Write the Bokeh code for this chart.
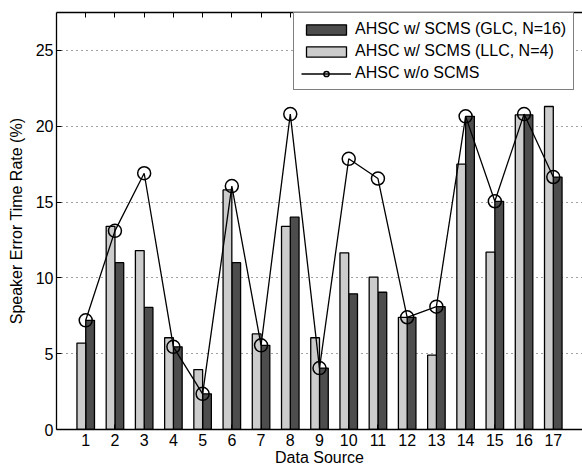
from bokeh.plotting import figure
from bokeh.models import LinearAxis, FixedTicker, Range1d, ColumnDataSource, CustomJSTickFormatter
from bokeh.transform import dodge
from bokeh.embed import file_html
from bokeh.resources import INLINE

sources = list(range(1, 18))
tick_labels = [str(s) for s in sources]
y_ticks = [0, 5, 10, 15, 20, 25]
glc = [7.2, 11.0, 8.05, 5.45, 2.35, 11.0, 5.55, 14.0, 4.05, 8.95, 9.05, 7.4, 8.1, 20.65, 15.05, 20.75, 16.65]
llc = [5.7, 13.4, 11.8, 6.05, 3.95, 15.8, 6.3, 13.4, 6.05, 11.65, 10.05, 7.4, 4.9, 17.5, 11.7, 20.75, 21.3]
wo_scms = [7.2, 13.1, 16.9, 5.45, 2.35, 16.05, 5.55, 20.8, 4.05, 17.85, 16.55, 7.4, 8.1, 20.65, 15.05, 20.8, 16.65]

src = ColumnDataSource(dict(x=sources, glc=glc, llc=llc, wo=wo_scms))

FONT = "Liberation Sans"

p = figure(width=582, height=468, output_backend="svg", toolbar_location=None,
           x_range=Range1d(0, 18), y_range=Range1d(0, 27.5),
           min_border_left=56, min_border_right=0, min_border_top=12, min_border_bottom=39)
p.outline_line_color = None
p.background_fill_color = "white"
p.border_fill_color = "white"

p.vbar(x=dodge("x", 0.15, range=p.x_range), top="glc", width=0.3, source=src,
       fill_color="#4d4d4d", line_color="black", line_width=1.3,
       legend_label="AHSC w/ SCMS (GLC, N=16)")
p.vbar(x=dodge("x", -0.15, range=p.x_range), top="llc", width=0.3, source=src,
       fill_color="#cccccc", line_color="black", line_width=1.3,
       legend_label="AHSC w/ SCMS (LLC, N=4)")
p.line(x="x", y="wo", source=src, line_color="black", line_width=1.3,
       legend_label="AHSC w/o SCMS")
p.scatter(x="x", y="wo", source=src, marker="circle", size=13, fill_color=None,
          line_color="black", line_width=1.5, legend_label="AHSC w/o SCMS")

# axes
p.xaxis.ticker = FixedTicker(ticks=sources)
p.xaxis.major_label_overrides = {s: t for s, t in zip(sources, tick_labels)}
p.yaxis.ticker = FixedTicker(ticks=y_ticks)
for ax in (p.xaxis[0], p.yaxis[0]):
    ax.major_tick_in = 5
    ax.major_tick_out = 0
    ax.minor_tick_line_color = None
    ax.axis_line_width = 1.3
    ax.axis_line_color = "black"
    ax.major_tick_line_color = "black"
    ax.major_label_text_font = FONT
    ax.major_label_text_font_size = "16px"
    ax.major_label_text_color = "black"
    ax.axis_label_text_font = FONT
    ax.axis_label_text_font_size = "16px"
    ax.axis_label_text_font_style = "normal"
    ax.axis_label_text_color = "black"
p.xaxis.axis_label = "Data Source"
p.yaxis.axis_label = "Speaker Error Time Rate (%)"
p.yaxis.major_label_standoff = 3
p.yaxis.axis_label_standoff = 8
p.xaxis.major_label_standoff = 4
p.xaxis.axis_label_standoff = 0

top = LinearAxis(ticker=FixedTicker(ticks=sources),
                 formatter=CustomJSTickFormatter(code="return '';"),
                 major_tick_in=5, major_tick_out=0, major_label_standoff=0,
                 minor_tick_line_color=None, axis_line_width=1.3)
p.add_layout(top, "above")

p.xgrid.grid_line_color = None
p.ygrid.grid_line_color = "#444444"
p.ygrid.grid_line_dash = "1 4"
p.ygrid.grid_line_width = 1

lg = p.legend[0]
lg.location = (237, 339)
lg.border_line_color = "black"
lg.border_line_width = 1
lg.background_fill_color = "white"
lg.background_fill_alpha = 1
lg.label_text_font = FONT
lg.label_text_font_size = "16px"
lg.label_text_color = "black"
lg.glyph_width = 50
lg.glyph_height = 13
lg.label_height = 16
lg.spacing = 4
lg.padding = 7
lg.margin = 0
lg.label_standoff = 4

open("out.html", "w").write(file_html(p, INLINE))
